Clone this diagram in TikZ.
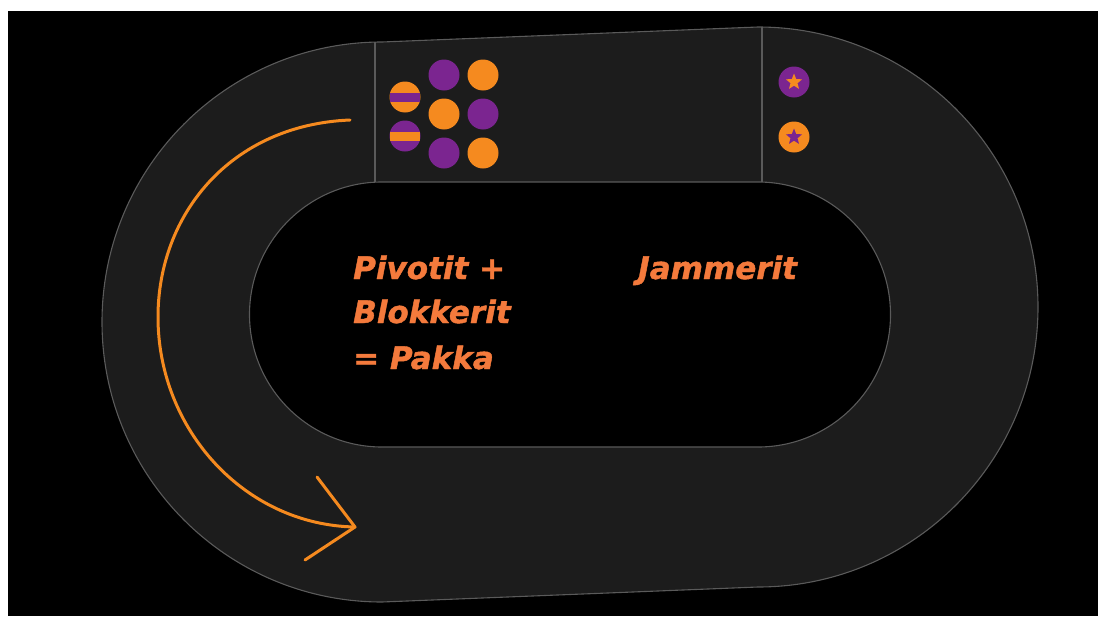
\documentclass[tikz,border=0pt]{standalone}
\usepackage{fontspec}
\setmainfont{DejaVu Sans}[BoldItalicFeatures={FakeBold=1.3}]
\usetikzlibrary{shapes.geometric}
\definecolor{trackgray}{HTML}{1C1C1C}
\definecolor{linegray}{HTML}{5A5A5A}
\definecolor{dpurple}{HTML}{7B2590}
\definecolor{dorange}{HTML}{F58A1F}
\definecolor{txtorange}{HTML}{F47A3C}
\begin{document}
\begin{tikzpicture}[x=1pt,y=-1pt,
  trackline/.style={draw=linegray,line width=1.1pt},
  player/.style={circle,minimum size=31pt,inner sep=0pt,draw=none},
  purpleplayer/.style={player,fill=dpurple},
  orangeplayer/.style={player,fill=dorange},
  pivotO/.style={player,fill=dorange,path picture={\fill[dpurple] ([yshift=-4.5pt]path picture bounding box.west) rectangle ([yshift=4.5pt]path picture bounding box.east);}},
  pivotP/.style={player,fill=dpurple,path picture={\fill[dorange] ([yshift=-4.5pt]path picture bounding box.west) rectangle ([yshift=4.5pt]path picture bounding box.east);}},
  starmark/.style={star,star points=5,star point ratio=2.3,minimum size=17pt,inner sep=0pt,draw=none},
  arrowline/.style={draw=dorange,line width=3pt,line cap=round,line join=round},
  label/.style={anchor=base west,inner sep=0pt,text=txtorange,font=\bfseries\itshape\fontsize{31}{36}\selectfont}
]
\useasboundingbox (0,0) rectangle (1098,616);
\fill[white] (0,0) rectangle (1098,616);
\fill[black] (8,11) rectangle (1098,616);
% track
\path[fill=trackgray,trackline] (382,42) -- (758,27) arc[start angle=-90,end angle=90,radius=280] -- (382,602) arc[start angle=90,end angle=270,radius=280] -- cycle;
\path[fill=black,trackline] (382,182) -- (758,182) arc[start angle=-90,end angle=90,radius=132.5] -- (382,447) arc[start angle=90,end angle=270,radius=132.5] -- cycle;
% dividers
\draw[trackline] (375,42.3) -- (375,182);
\draw[trackline] (762,27.1) -- (762,182);
% pack
\node[pivotO] (piv1) at (405,97) {};
\node[pivotP] (piv2) at (405,136) {};
\node[purpleplayer] (b1) at (444,75) {};
\node[orangeplayer] (b2) at (483,75) {};
\node[orangeplayer] (b3) at (444,114) {};
\node[purpleplayer] (b4) at (483,114) {};
\node[purpleplayer] (b5) at (444,153) {};
\node[orangeplayer] (b6) at (483,153) {};
% jammers
\node[purpleplayer] (jam1) at (794,82) {};
\node[starmark,fill=dorange] (star1) at (jam1) {};
\node[orangeplayer] (jam2) at (794,137) {};
\node[starmark,fill=dpurple] (star2) at (jam2) {};
% direction arrow
\coordinate (astart) at (350,120);
\coordinate (amid) at (158,317);
\coordinate (atip) at (355,527);
\coordinate (ahead1) at (317,477);
\coordinate (ahead2) at (305,560);
\draw[arrowline] (astart) .. controls (230,125) and (158,215) .. (amid) .. controls (158,430) and (245,525) .. (atip);
\draw[arrowline] (ahead1) -- (atip) -- (ahead2);
% texts
\node[label] (t1) at (353,279) {Pivotit +};
\node[label] (t2) at (353,323) {Blokkerit};
\node[label] (t3) at (353,369) {= Pakka};
\node[label] (t4) at (638,279) {Jammerit};
\end{tikzpicture}
\end{document}
